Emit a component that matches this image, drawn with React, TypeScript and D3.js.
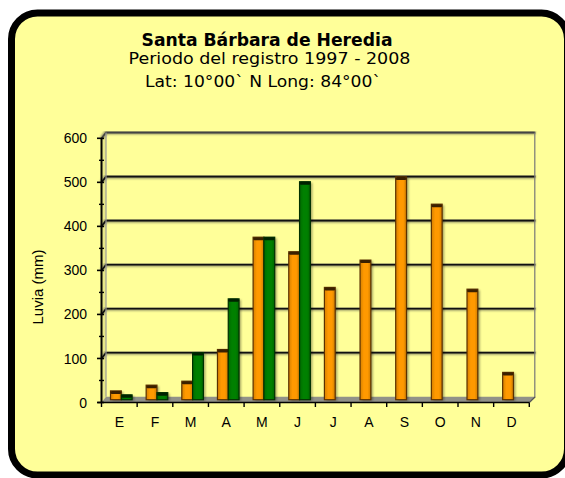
import React from "react";
import * as d3 from "d3";

const months = ["E", "F", "M", "A", "M", "J", "J", "A", "S", "O", "N", "D"];
const seriesNames = ["Promedio 1997-2008", "2008"];
const promedio: (number | null)[] = [20, 33, 42, 114, 369, 336, 255, 317, 506, 444, 251, 62];
const anio2008: (number | null)[] = [11, 16, 107, 229, 369, 495, null, null, null, null, null, null];
const yTicks = [0, 100, 200, 300, 400, 500, 600];
const yMinorTicks = [50, 150, 250, 350, 450, 550];
const titleLines = ["Santa Bárbara de Heredia", "Periodo del registro 1997 - 2008", "Lat: 10°00`  N Long: 84°00`"];
const yTitle = "Luvia (mm)";

const W = 565;
const H = 478;
const fillColors = ["#FF9900", "#008000"];
const darkColors = ["#5a3000", "#003000"];
const capColors = ["#3a2000", "#002200"];

export default function App() {
  const x = d3.scaleBand<number>().domain(d3.range(12)).range([101.5, 529.3]).padding(0);
  const xInner = d3.scaleBand<number>().domain([0, 1]).range([9, 30.6]).padding(0);
  const yFront = d3.scaleLinear().domain([0, 600]).range([402.5, 138.3]);
  const back = { dx: 4.5, dy: -5.7 };
  const mid = { dx: 0, dy: -2.8 };
  const series = [promedio, anio2008];
  const x0 = x.range()[0];
  const x1 = x.range()[1];

  return (
    <svg
      width={W}
      height={H}
      style={{ position: "absolute", left: 0, top: 0, background: "#fff" }}
      fontFamily="'Liberation Sans', Arial, sans-serif"
    >
      <defs>
        <filter id="soft" x="-20%" y="-20%" width="140%" height="140%">
          <feGaussianBlur stdDeviation="1" />
        </filter>
        <filter id="shadow" x="-50%" y="-10%" width="200%" height="120%">
          <feGaussianBlur stdDeviation="1.2" />
        </filter>
        {fillColors.map((c, i) => (
          <linearGradient key={i} id={`grad${i}`} x1="0" x2="1" y1="0" y2="0">
            <stop offset="0" stopColor={d3.color(c)!.darker(0.5).toString()} />
            <stop offset="0.35" stopColor={c} />
            <stop offset="0.7" stopColor={c} />
            <stop offset="1" stopColor={d3.color(c)!.darker(0.6).toString()} />
          </linearGradient>
        ))}
      </defs>
      <rect x={11.5} y={13} width={556} height={462} rx={26} ry={26} fill="#FFFF99" stroke="#000" strokeWidth={7} />

      {/* Title */}
      <g fontFamily="'DejaVu Sans', Verdana, sans-serif" textAnchor="middle" fill="#000" style={{ whiteSpace: "pre" }}>
        <text x={267} y={45.7} fontSize={17} fontWeight="bold" textLength={251} lengthAdjust="spacingAndGlyphs">
          {titleLines[0]}
        </text>
        <text x={269.5} y={63.5} fontSize={16.5} textLength={282} lengthAdjust="spacingAndGlyphs">
          {titleLines[1]}
        </text>
        <text x={263} y={87.3} fontSize={16.5} textLength={236} lengthAdjust="spacingAndGlyphs">
          {titleLines[2]}
        </text>
      </g>

      {/* left wall shading */}
      <polygon
        points={`${x0},${yFront(600)} ${x0 + back.dx},${yFront(600) + back.dy} ${x0 + back.dx},${yFront(0) + back.dy} ${x0},${yFront(0)}`}
        fill="#e8e888"
      />
      {/* floor */}
      <polygon
        points={`${x0},${yFront(0)} ${x1},${yFront(0)} ${x1 + back.dx + 1.5},${yFront(0) + back.dy} ${x0 + back.dx},${yFront(0) + back.dy}`}
        fill="#919188"
      />

      {/* gridlines */}
      {yTicks.slice(1).map((t) => {
        const yf = yFront(t);
        const pts = `${x0},${yf} ${x0 + back.dx},${yf + back.dy} ${x1 + back.dx + 1.5},${yf + back.dy}`;
        const isTop = t === 600;
        return (
          <g key={t}>
            <polyline points={pts} fill="none" stroke="#8a8a60" strokeWidth={3.5} filter="url(#soft)" />
            <polyline points={pts} fill="none" stroke={isTop ? "#444" : "#111"} strokeWidth={1.6} />
          </g>
        );
      })}
      {/* back right edge */}
      <line x1={x1 + back.dx + 1.5} x2={x1 + back.dx + 1.5} y1={yFront(600) + back.dy} y2={yFront(0) + back.dy} stroke="#8a8a60" strokeWidth={3.5} filter="url(#soft)" />
      <line x1={x1 + back.dx + 1} x2={x1 + back.dx + 1} y1={yFront(600) + back.dy} y2={yFront(0) + back.dy} stroke="#777" strokeWidth={1.2} />
      {/* left back edge */}
      <line x1={x0 + back.dx} x2={x0 + back.dx} y1={yFront(600) + back.dy} y2={yFront(0) + back.dy} stroke="#999" strokeWidth={1.2} />
      {/* floor right diagonal */}
      <line x1={x1} y1={yFront(0)} x2={x1 + back.dx + 1.5} y2={yFront(0) + back.dy} stroke="#555" strokeWidth={1.2} />

      {/* bars */}
      {series.map((s, si) =>
        s.map((v, i) => {
          if (v == null) return null;
          const bx = (x(i) as number) + (xInner(si) as number) + mid.dx;
          const bw = xInner.bandwidth();
          const yTop = yFront(v) + mid.dy;
          const yBase = yFront(0) + mid.dy;
          const h = yBase - yTop;
          return (
            <g key={`${si}-${i}`}>
              <rect x={bx + 2} y={yTop + 1} width={bw} height={h} fill="#000" opacity={0.35} filter="url(#shadow)" />
              <rect x={bx} y={yTop} width={bw} height={h} fill={`url(#grad${si})`} stroke={darkColors[si]} strokeWidth={1.2} />
              <rect x={bx} y={yTop} width={bw} height={Math.min(3, h)} rx={1.5} fill={capColors[si]} />
            </g>
          );
        })
      )}

      {/* front y axis */}
      <line x1={x0} x2={x0} y1={yFront(600)} y2={yFront(0)} stroke="#000" strokeWidth={2} />
      {yTicks.map((t) => (
        <line key={t} x1={x0 - 4.5} x2={x0 + 2.5} y1={yFront(t)} y2={yFront(t)} stroke="#000" strokeWidth={1.6} />
      ))}
      {yMinorTicks.map((t) => (
        <line key={t} x1={x0 - 2.5} x2={x0 + 2.5} y1={yFront(t)} y2={yFront(t)} stroke="#000" strokeWidth={1.4} />
      ))}
      {yTicks.map((t) => (
        <text key={t} x={87} y={yFront(t)} dy="0.36em" fontSize={14} textAnchor="end" fill="#000">
          {t}
        </text>
      ))}

      {/* x axis */}
      <line x1={x0 - 4} x2={x1} y1={yFront(0)} y2={yFront(0)} stroke="#000" strokeWidth={1.6} />
      {d3.range(13).map((i) => {
        const tx = i < 12 ? (x(i) as number) : x1;
        return <line key={i} x1={tx} x2={tx} y1={yFront(0)} y2={yFront(0) + 4.5} stroke="#000" strokeWidth={1.4} />;
      })}
      {months.map((m, i) => (
        <text key={i} x={(x(i) as number) + x.bandwidth() / 2} y={427} fontSize={14} textAnchor="middle" fill="#000">
          {m}
        </text>
      ))}

      {/* y title */}
      <text transform="translate(42.5,287) rotate(-90)" fontSize={15} textAnchor="middle" fill="#000">
        {yTitle}
      </text>
      <desc>{seriesNames.join(", ")}</desc>
    </svg>
  );
}
